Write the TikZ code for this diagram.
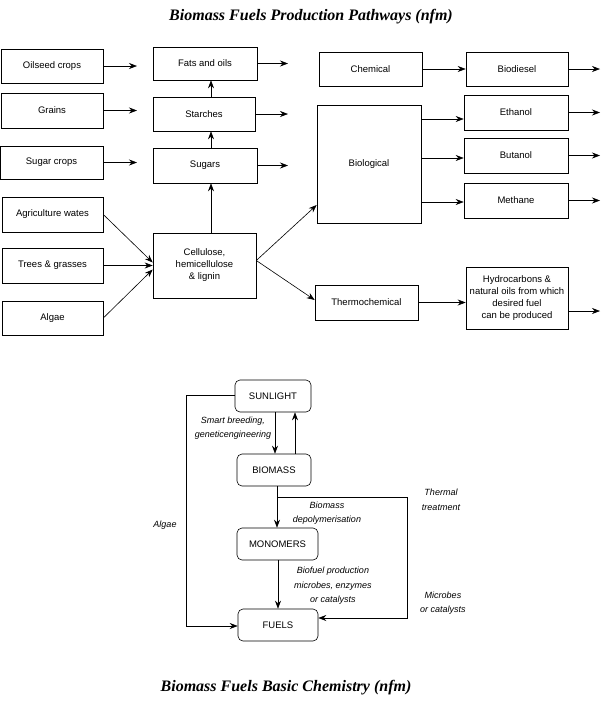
\documentclass[tikz,border=0pt]{standalone}
\usepackage{fontspec}
\setmainfont{Liberation Serif}
\setsansfont{Liberation Sans}
\usepackage{tikz}
\usetikzlibrary{positioning, arrows.meta, calc}

\begin{document}
\begin{tikzpicture}[x=1pt, y=-1pt, line width=0.6pt, >={Stealth[length=8pt,width=6pt]}, box/.style={draw,inner sep=1pt,align=center,font=\sffamily\fontsize{9.5}{12}\selectfont}, rbox/.style={box,rounded corners=5pt}, lbl/.style={align=center,font=\sffamily\itshape\fontsize{9}{14.5}\selectfont}, title/.style={font=\bfseries\itshape\fontsize{16}{18}\selectfont}]
  \useasboundingbox (0,0) rectangle (614,705);
  \node[title] (ttop) at (311,17) {Biomass Fuels Production Pathways (nfm)};
  % feedstocks
  \node[box, minimum width=102pt, minimum height=34pt] (oilseed) at (52,66) {Oilseed crops};
  \node[box, minimum width=102pt, minimum height=35pt] (grains) at (52,110.5) {Grains};
  \node[box, minimum width=103pt, minimum height=33pt] (sugarcrops) at (51.5,162.5) {Sugar crops};
  \node[box, minimum width=101pt, minimum height=35pt] (agri) at (52.5,214.5) {Agriculture wates};
  \node[box, minimum width=101pt, minimum height=35pt] (trees) at (52.5,265.5) {Trees \& grasses};
  \node[box, minimum width=101pt, minimum height=34pt] (algae) at (52.5,318) {Algae};
  % intermediates
  \node[box, minimum width=104pt, minimum height=33pt] (fats) at (205,63.5) {Fats and oils};
  \node[box, minimum width=102pt, minimum height=34pt] (starches) at (204,114) {Starches};
  \node[box, minimum width=104pt, minimum height=35pt] (sugars) at (205,165.5) {Sugars};
  \node[box, minimum width=103pt, minimum height=65pt] (cell) at (204.5,265.5) {Cellulose,\\hemicellulose\\\& lignin};
  % processes
  \node[box, minimum width=103pt, minimum height=34pt] (chem) at (370.5,69) {Chemical};
  \node[box, minimum width=104pt, minimum height=118pt] (bio) at (369,164) {Biological};
  \node[box, minimum width=103pt, minimum height=35pt] (thermo) at (366.5,302.5) {Thermochemical};
  % fuels
  \node[box, minimum width=102pt, minimum height=34pt] (biodiesel) at (517,69) {Biodiesel};
  \node[box, minimum width=104pt, minimum height=35pt] (ethanol) at (516,112.5) {Ethanol};
  \node[box, minimum width=104pt, minimum height=35pt] (butanol) at (516,155.5) {Butanol};
  \node[box, minimum width=104pt, minimum height=35pt] (methane) at (516,200.5) {Methane};
  \node[box, minimum width=102pt, minimum height=62pt, inner sep=0pt] (hydro) at (517,298) {Hydrocarbons \&\\natural oils from which\\desired fuel\\can be produced};
  % free ends
  \coordinate (upx) at (211,0);
  \coordinate (endA) at (137,0);
  \coordinate (endB) at (288,0);
  \coordinate (endC) at (600,0);
  \draw[->] (oilseed.east) -- (endA |- oilseed.east);
  \draw[->] (grains.east) -- (endA |- grains.east);
  \draw[->] (sugarcrops.east) -- (endA |- sugarcrops.east);
  \draw[->] (fats.east) -- (endB |- fats.east);
  \draw[->] (starches.east) -- (endB |- starches.east);
  \draw[->] (sugars.east) -- (endB |- sugars.east);
  \draw[->] (starches.north -| upx) -- (fats.south -| upx);
  \draw[->] (sugars.north -| upx) -- (starches.south -| upx);
  \draw[->] (cell.north -| upx) -- (sugars.south -| upx);
  \draw[->] (agri.east) -- ([yshift=3pt]cell.west);
  \draw[->] (trees.east) -- (cell.west);
  \draw[->] (algae.east) -- ([yshift=-4pt]cell.west);
  \draw[->] ([yshift=5pt]cell.east) -- (bio.west |- 0,205);
  \draw[->] ([yshift=5pt]cell.east) -- (thermo.west |- 0,300);
  \draw[->] (chem.east) -- (biodiesel.west);
  \draw[->] (bio.east |- 0,119) -- (ethanol.west |- 0,119);
  \draw[->] (bio.east |- 0,158) -- (butanol.west |- 0,158);
  \draw[->] (bio.east |- 0,202) -- (methane.west |- 0,202);
  \draw[->] (thermo.east) -- (hydro.west |- thermo.east);
  \draw[->] (biodiesel.east) -- (endC |- biodiesel.east);
  \draw[->] (ethanol.east) -- (endC |- ethanol.east);
  \draw[->] (butanol.east) -- (endC |- butanol.east);
  \draw[->] (methane.east) -- (endC |- methane.east);
  \draw[->] (hydro.east |- 0,311) -- (endC |- 0,311);

  % basic chemistry
  \node[rbox, minimum width=76pt, minimum height=32pt] (sun) at (273,396) {SUNLIGHT};
  \node[rbox, minimum width=74pt, minimum height=32pt] (biomass) at (274,470) {BIOMASS};
  \node[rbox, minimum width=81pt, minimum height=32pt] (mono) at (277.5,544) {MONOMERS};
  \node[rbox, minimum width=80pt, minimum height=32pt] (fuels) at (278,625) {FUELS};
  \node[lbl] (smart) at (233,428) {Smart breeding,\\geneticengineering};
  \node[lbl] (depol) at (327,513) {Biomass\\depolymerisation};
  \node[lbl] (thermal) at (441,500) {Thermal\\treatment};
  \node[lbl] (algaelbl) at (165,525) {Algae};
  \node[lbl] (biofuel) at (333,586) {Biofuel production\\microbes, enzymes\\or catalysts};
  \node[lbl] (microbes) at (443,603) {Microbes\\or catalysts};
  \coordinate (algx) at (186,0);
  \coordinate (thx) at (407,0);
  \draw[->] (sun.south -| 275,0) -- (biomass.north -| 275,0);
  \draw[->] (biomass.north -| 295,0) -- (sun.south -| 295,0);
  \draw[->] (biomass.south -| 277,0) -- (mono.north -| 277,0);
  \draw[->] (mono.south -| 278,0) -- (fuels.north -| 278,0);
  \draw[->] (277,497) -| (thx |- 0,618) -- (fuels.east |- 0,618);
  \draw[->] (sun.west |- 0,395) -| (algx |- 0,626) -- (fuels.west |- 0,626);
  \node[title] (tbot) at (286,688) {Biomass Fuels Basic Chemistry (nfm)};
\end{tikzpicture}
\end{document}
